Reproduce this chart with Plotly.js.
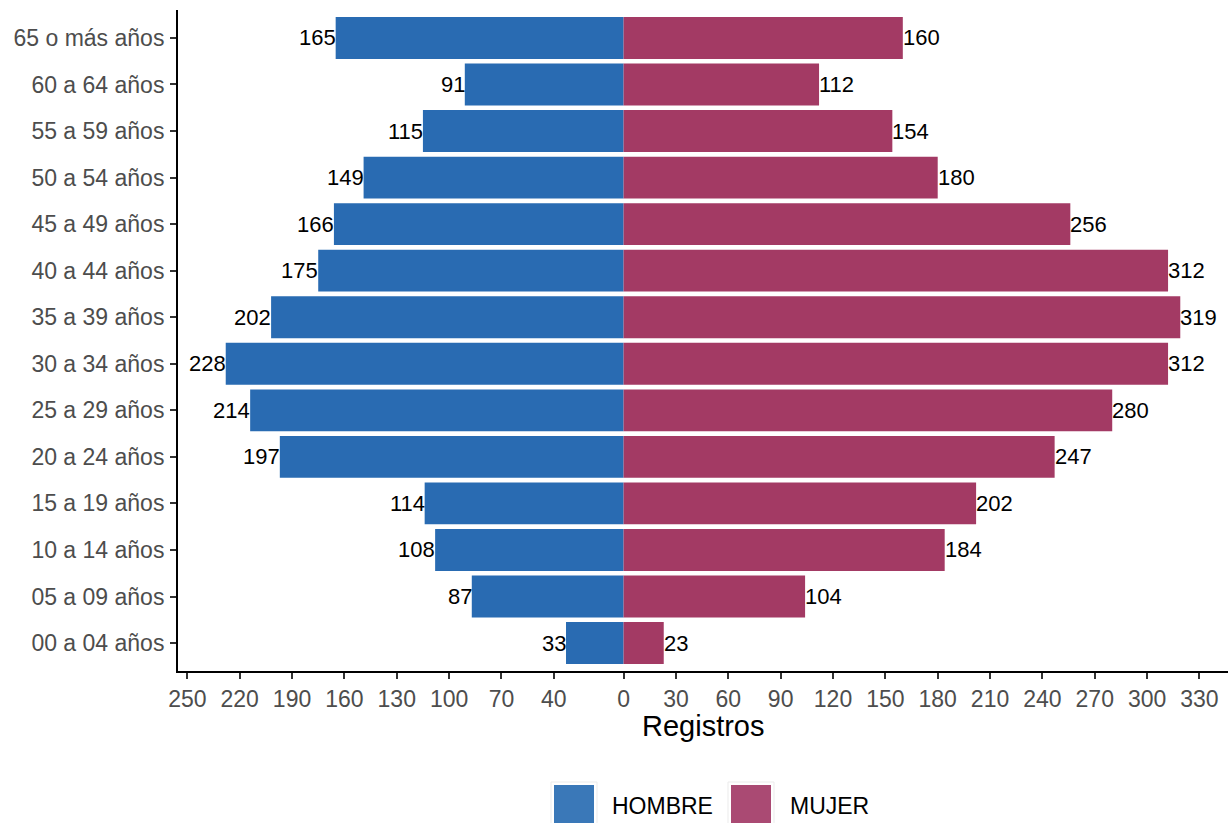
<!DOCTYPE html>
<html>
<head>
<meta charset="utf-8">
<script src="https://cdn.plot.ly/plotly-3.0.1.min.js"></script>
<style>html,body{margin:0;padding:0;background:#fff;}#chart{width:1230px;height:823px;}</style>
</head>
<body>
<div id="chart"></div>
<script>
const categories = ["00 a 04 años","05 a 09 años","10 a 14 años","15 a 19 años","20 a 24 años","25 a 29 años","30 a 34 años","35 a 39 años","40 a 44 años","45 a 49 años","50 a 54 años","55 a 59 años","60 a 64 años","65 o más años"];
const hombre = [33, 87, 108, 114, 197, 214, 228, 202, 175, 166, 149, 115, 91, 165];
const mujer = [23, 104, 184, 202, 247, 280, 312, 319, 312, 256, 180, 154, 112, 160];
const tickVals = [-250,-220,-190,-160,-130,-100,-70,-40,0,30,60,90,120,150,180,210,240,270,300,330];
const tickText = ["250","220","190","160","130","100","70","40","0","30","60","90","120","150","180","210","240","270","300","330"];
const seriesNames = ["HOMBRE","MUJER"];
const xTitle = "Registros";

const colH = "#296BB2";
const colM = "#A33A64";
const FONT = "Liberation Sans, Arial, sans-serif";

const traces = [
  {type:"bar", orientation:"h", name:seriesNames[0], y:categories, x:hombre.map(v=>-v),
   marker:{color:colH, line:{width:0}}, hoverinfo:"none", showlegend:false},
  {type:"bar", orientation:"h", name:seriesNames[1], y:categories, x:mujer,
   marker:{color:colM, line:{width:0}}, hoverinfo:"none", showlegend:false}
];

const annotations = [];
categories.forEach((c,i)=>{
  annotations.push({x:-hombre[i], y:c, xref:"x", yref:"y", text:String(hombre[i]), showarrow:false,
    xanchor:"right", yanchor:"middle", borderpad:0, xshift:1, font:{family:FONT,size:22,color:"#000"}});
  annotations.push({x:mujer[i], y:c, xref:"x", yref:"y", text:String(mujer[i]), showarrow:false,
    xanchor:"left", yanchor:"middle", borderpad:0, xshift:-1, font:{family:FONT,size:22,color:"#000"}});
});

// legend (ggplot-style keys) in pixel-derived paper coords
const W = 1230, H = 823, L = 178, R = 2, T = 10, B = 152;
const pw = W - L - R, ph = H - T - B;
const px = x => (x - L) / pw;
const py = y => (H - B - y) / ph;
const shapes = [
  {type:"rect", xref:"paper", yref:"paper", x0:px(551), x1:px(597), y0:py(828), y1:py(782), fillcolor:"#FFFFFF", line:{color:"#EBEBEB", width:1}},
  {type:"rect", xref:"paper", yref:"paper", x0:px(554), x1:px(594), y0:py(828), y1:py(785), fillcolor:"#3A78B8", line:{width:0}},
  {type:"rect", xref:"paper", yref:"paper", x0:px(728), x1:px(774), y0:py(828), y1:py(782), fillcolor:"#FFFFFF", line:{color:"#EBEBEB", width:1}},
  {type:"rect", xref:"paper", yref:"paper", x0:px(731), x1:px(771), y0:py(828), y1:py(785), fillcolor:"#AA4A73", line:{width:0}}
];
annotations.push({xref:"paper", yref:"paper", x:px(610), y:py(806), text:seriesNames[0], showarrow:false, xanchor:"left", yanchor:"middle", font:{family:FONT,size:23,color:"#000"}});
annotations.push({xref:"paper", yref:"paper", x:px(788), y:py(806), text:seriesNames[1], showarrow:false, xanchor:"left", yanchor:"middle", font:{family:FONT,size:23,color:"#000"}});
annotations.push({xref:"paper", yref:"paper", x:0.5, y:py(726), text:xTitle, showarrow:false, xanchor:"center", yanchor:"middle", borderpad:0, font:{family:FONT,size:29,color:"#000"}});

const layout = {
  width:W, height:H,
  margin:{l:L, r:R, t:T, b:B, pad:0},
  paper_bgcolor:"#fff", plot_bgcolor:"#fff",
  barmode:"overlay", bargap:0.1,
  showlegend:false,
  font:{family:FONT},
  xaxis:{range:[-255.35,346.35], tickmode:"array", tickvals:tickVals, ticktext:tickText,
    showgrid:false, zeroline:false, showline:true, linecolor:"#000", linewidth:2,
    ticks:"outside", ticklen:6, tickwidth:2, tickcolor:"#333",
    tickfont:{family:FONT, size:23, color:"#4D4D4D"},
    fixedrange:true},
  yaxis:{type:"category", categoryorder:"array", categoryarray:categories, range:[-0.6,13.6],
    showgrid:false, zeroline:false, showline:true, linecolor:"#000", linewidth:2,
    ticks:"outside", ticklen:6, tickwidth:2, tickcolor:"#333",
    tickfont:{family:FONT, size:23, color:"#4D4D4D"}, ticklabelstandoff:1, fixedrange:true},
  shapes:shapes,
  annotations:annotations
};

Plotly.newPlot("chart", traces, layout, {displayModeBar:false, staticPlot:true});
</script>
</body>
</html>
